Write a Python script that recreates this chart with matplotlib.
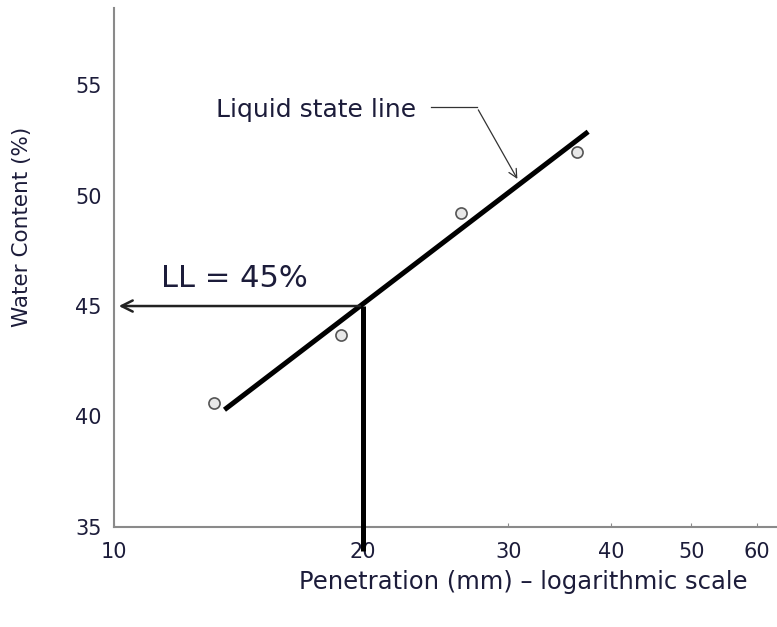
import numpy as np
import matplotlib
matplotlib.use("Agg")
import matplotlib.pyplot as plt

# measured points (penetration mm, water content %)
pen = [13.2, 18.8, 26.3, 36.4]
wc = [40.6, 43.7, 49.2, 52.0]

# best-fit liquid state line ends
line_pen = [13.6, 37.5]
line_wc = [40.3, 52.9]

ll_pen = 20
ll_wc = 45

xticks = [10, 20, 30, 40, 50, 60]
yticks = [35, 40, 45, 50, 55]

txt = '#1c1c3a'
fig = plt.figure(figsize=(7.77, 6.27), dpi=100)
ax = fig.add_axes([0.147, 0.16, 0.853, 0.827])
ax.set_xscale('log')
ax.set_xlim(10, 63.5)
ax.set_ylim(35, 58.5)

for s in ['top', 'right']:
    ax.spines[s].set_visible(False)
for s in ['left', 'bottom']:
    ax.spines[s].set_color('#8a8a8a')
    ax.spines[s].set_linewidth(1.5)

ax.set_xticks(xticks)
ax.set_xticklabels([str(t) for t in xticks])
ax.minorticks_off()
ax.set_yticks(yticks)
ax.tick_params(axis='x', direction='in', length=3, color='#8a8a8a', labelsize=15, labelcolor=txt, pad=11)
ax.tick_params(axis='y', length=0, labelsize=15, labelcolor=txt, pad=9)

ax.set_ylabel('Water Content (%)', fontsize=15.5, color=txt)
ax.yaxis.set_label_coords(-0.139, 0.579)
ax.yaxis.label.set_verticalalignment('center')
ax.set_xlabel('Penetration (mm) \u2013 logarithmic scale', fontsize=17.5, color=txt)
ax.xaxis.set_label_coords(0.617, -0.106)
ax.xaxis.label.set_verticalalignment('center')

# data circles and fitted line
ax.plot(line_pen, line_wc, color='black', lw=3.6, solid_capstyle='butt', zorder=3)
ax.plot(pen, wc, 'o', ms=8, mfc='#e8e8e8', mec='#555555', mew=1.2, zorder=2)

# LL construction
ax.plot([ll_pen, ll_pen], [33.9, ll_wc], color='black', lw=3.6, clip_on=False,
        solid_capstyle='butt', zorder=3)
ax.annotate('', xy=(10.05, ll_wc), xytext=(ll_pen, ll_wc),
            arrowprops=dict(arrowstyle='->', color='#222222', lw=1.8, mutation_scale=20))
ax.text(11.4, 45.85, 'LL = 45%', fontsize=22, color=txt, ha='left', va='baseline')

# liquid state line label
ax.text(13.3, 53.55, 'Liquid state line', fontsize=18, color=txt, ha='left', va='baseline')
ax.plot([24.2, 27.5], [54.0, 54.0], color='#333333', lw=0.9)
ax.annotate('', xy=(30.9, 50.65), xytext=(27.5, 54.0),
            arrowprops=dict(arrowstyle='->', color='#333333', lw=0.9, mutation_scale=15))

fig.savefig('out.png', dpi=100)
